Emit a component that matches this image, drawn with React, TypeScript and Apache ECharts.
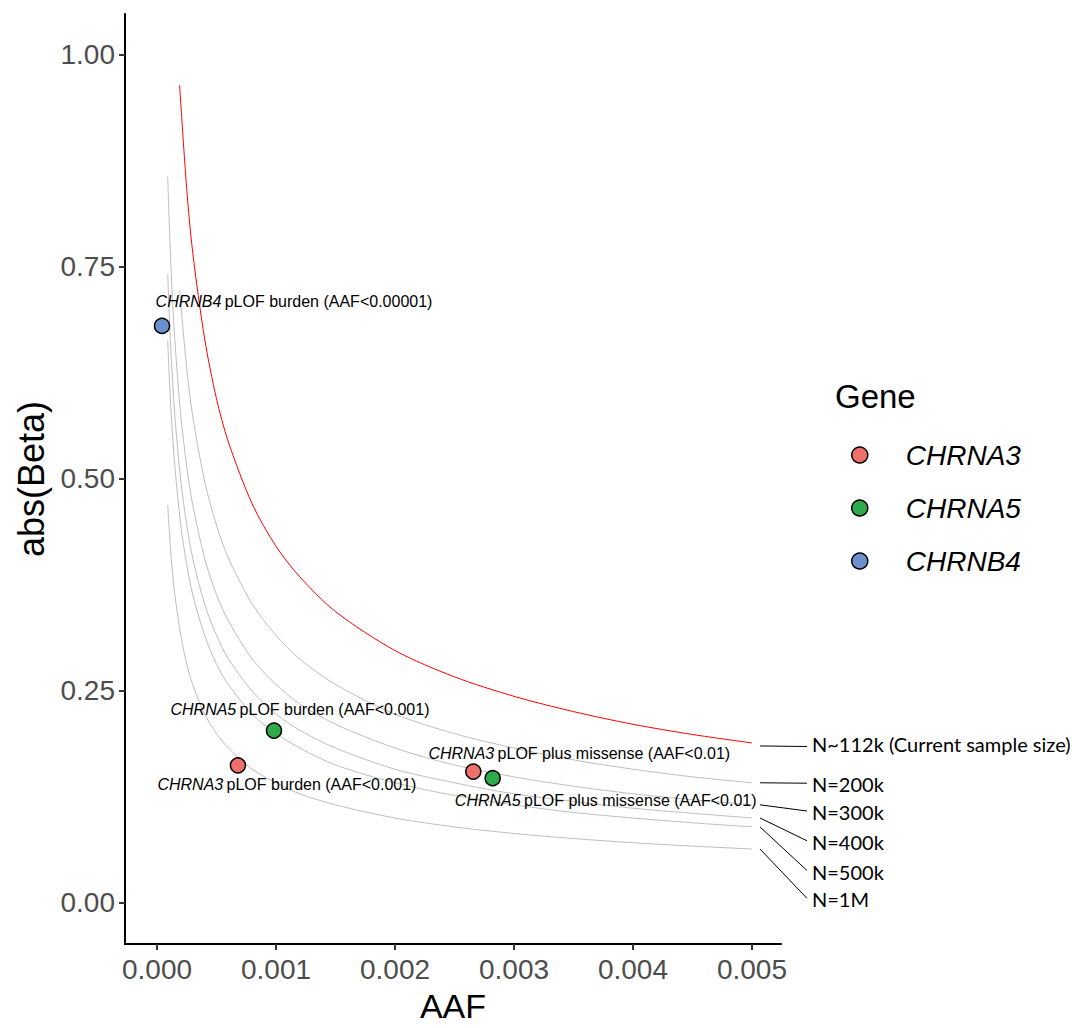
import { useEffect, useRef } from "react";
import * as echarts from "echarts";

// ---- curve data (AAF vs abs(Beta) detectable at given N) ----
const curveAafShort = [0.00019, 0.00025, 0.0003, 0.0004, 0.0005, 0.0006, 0.0008, 0.001, 0.0012, 0.0015, 0.002, 0.0025, 0.003, 0.0035, 0.004, 0.0045, 0.005];
const beta112k = [0.964, 0.841, 0.767, 0.665, 0.594, 0.543, 0.470, 0.420, 0.384, 0.343, 0.297, 0.266, 0.243, 0.225, 0.210, 0.198, 0.188];
const beta200k = [0.722, 0.629, 0.574, 0.497, 0.445, 0.406, 0.352, 0.315, 0.287, 0.257, 0.222, 0.199, 0.182, 0.168, 0.157, 0.148, 0.141];

const curveAafLong = [0.00009, 0.0001, 0.00012, 0.00015, 0.0002, 0.00025, 0.0003, 0.0004, 0.0005, 0.0006, 0.0008, 0.001, 0.0012, 0.0015, 0.002, 0.0025, 0.003, 0.0035, 0.004, 0.0045, 0.005];
const beta300k = [0.856, 0.812, 0.741, 0.663, 0.574, 0.514, 0.469, 0.406, 0.363, 0.332, 0.287, 0.257, 0.234, 0.210, 0.182, 0.162, 0.148, 0.137, 0.128, 0.121, 0.115];
const beta400k = [0.741, 0.703, 0.642, 0.574, 0.497, 0.445, 0.406, 0.352, 0.315, 0.287, 0.249, 0.222, 0.203, 0.182, 0.157, 0.141, 0.128, 0.119, 0.111, 0.105, 0.0995];
const beta500k = [0.663, 0.629, 0.574, 0.514, 0.445, 0.398, 0.363, 0.315, 0.281, 0.257, 0.222, 0.199, 0.182, 0.162, 0.141, 0.126, 0.115, 0.106, 0.0994, 0.0938, 0.089];
const beta1M = [0.469, 0.445, 0.406, 0.363, 0.315, 0.281, 0.257, 0.222, 0.199, 0.182, 0.157, 0.141, 0.128, 0.115, 0.0994, 0.0889, 0.0812, 0.0752, 0.0703, 0.0663, 0.0629];

const curveNames = ["N~112k (Current sample size)", "N=200k", "N=300k", "N=400k", "N=500k", "N=1M"];
// abs(Beta) level at which each curve's label sits on the right
const curveLabelBeta = [0.1885, 0.1405, 0.1077, 0.0726, 0.0375, 0.0047];

// ---- gene points ----
const geneNames = ["CHRNA3", "CHRNA5", "CHRNB4"];
const geneColors = ["#EF6F6A", "#2DAA4A", "#6C8FCD"];
const chrna3Aaf = [0.00068, 0.002658];
const chrna3Beta = [0.1616, 0.1542];
const chrna5Aaf = [0.000983, 0.002821];
const chrna5Beta = [0.2026, 0.1464];
const chrnb4Aaf = [0.000042];
const chrnb4Beta = [0.68];
const chrna3Desc = ["pLOF burden (AAF<0.001)", "pLOF plus missense (AAF<0.01)"];
const chrna5Desc = ["pLOF burden (AAF<0.001)", "pLOF plus missense (AAF<0.01)"];
const chrnb4Desc = ["pLOF burden (AAF<0.00001)"];

const xTicks = [0, 0.001, 0.002, 0.003, 0.004, 0.005];
const yTicks = [0, 0.25, 0.5, 0.75, 1.0];

// label offsets (pixels) for each point label
const chrna3LabelOffset = [[49, 19], [106, -18]];
const chrna5LabelOffset = [[26, -21], [113, 22]];
const chrnb4LabelOffset = [[132, -24]];

const FONT = "'Liberation Sans', Arial, Helvetica, sans-serif";

export default function App() {
  const ref = useRef<HTMLDivElement>(null);

  useEffect(() => {
    if (!ref.current) return;
    const chart = echarts.init(ref.current, null, { renderer: "svg" });

    const curveSets = [
      { aaf: curveAafShort, beta: beta112k, color: "#FF0000" },
      { aaf: curveAafShort, beta: beta200k, color: "#BEBEBE" },
      { aaf: curveAafLong, beta: beta300k, color: "#BEBEBE" },
      { aaf: curveAafLong, beta: beta400k, color: "#BEBEBE" },
      { aaf: curveAafLong, beta: beta500k, color: "#BEBEBE" },
      { aaf: curveAafLong, beta: beta1M, color: "#BEBEBE" },
    ];

    const lineSeries = curveSets.map((c, i) => ({
      type: "line",
      name: curveNames[i],
      data: c.aaf.map((a, j) => [a, c.beta[j]]),
      showSymbol: false,
      symbol: "none",
      smooth: 0.3,
      silent: true,
      z: i === 0 ? 3 : 2,
      lineStyle: { color: c.color, width: 1 },
    }));

    const genes = [
      { aaf: chrna3Aaf, beta: chrna3Beta, desc: chrna3Desc, off: chrna3LabelOffset },
      { aaf: chrna5Aaf, beta: chrna5Beta, desc: chrna5Desc, off: chrna5LabelOffset },
      { aaf: chrnb4Aaf, beta: chrnb4Beta, desc: chrnb4Desc, off: chrnb4LabelOffset },
    ];

    const scatterSeries = genes.map((g, gi) => ({
      type: "scatter",
      name: geneNames[gi],
      symbol: "circle",
      symbolSize: 15,
      z: 5,
      itemStyle: { color: geneColors[gi], borderColor: "#000", borderWidth: 1.5, opacity: 1 },
      data: g.aaf.map((a, j) => ({
        value: [a, g.beta[j]],
        label: {
          show: true,
          position: "inside",
          offset: g.off[j],
          formatter: `{i|${geneNames[gi]}} {n|${g.desc[j]}}`,
          rich: {
            i: { fontStyle: "italic", fontSize: 16, fontFamily: FONT, color: "#000" },
            n: { fontSize: 16, fontFamily: FONT, color: "#000" },
          },
        },
      })),
    }));

    chart.setOption({
      animation: false,
      backgroundColor: "#fff",
      grid: { left: 125, top: 14, width: 656, height: 937, containLabel: false },
      xAxis: {
        type: "value",
        min: -0.000269,
        max: 0.005244,
        name: "AAF",
        nameLocation: "middle",
        nameGap: 45,
        nameTextStyle: { fontSize: 34, fontFamily: FONT, color: "#000" },
        axisLine: { show: true, onZero: false, lineStyle: { color: "#000", width: 2 } },
        axisTick: { show: true, customValues: xTicks, length: 6, lineStyle: { color: "#333", width: 2 } },
        axisLabel: {
          customValues: xTicks,
          formatter: (v: number) => v.toFixed(3),
          fontSize: 28,
          fontFamily: FONT,
          color: "#4D4D4D",
          margin: 11,
        },
        splitLine: { show: false },
      },
      yAxis: {
        type: "value",
        min: -0.0492,
        max: 1.048,
        name: "abs(Beta)",
        nameLocation: "middle",
        nameGap: 75,
        nameRotate: 90,
        nameTextStyle: { fontSize: 36, fontFamily: FONT, color: "#000" },
        axisLine: { show: true, onZero: false, lineStyle: { color: "#000", width: 2 } },
        axisTick: { show: true, customValues: yTicks, length: 6, lineStyle: { color: "#333", width: 2 } },
        axisLabel: {
          customValues: yTicks,
          formatter: (v: number) => v.toFixed(2),
          fontSize: 28,
          fontFamily: FONT,
          color: "#4D4D4D",
          margin: 10,
        },
        splitLine: { show: false },
      },
      legend: {
        data: geneNames,
        orient: "vertical",
        left: 846,
        top: 435,
        itemWidth: 82,
        itemHeight: 16,
        itemGap: 23,
        icon: "circle",
        itemStyle: { borderColor: "#000", borderWidth: 1.5 },
        textStyle: { fontSize: 28, fontStyle: "italic", fontFamily: FONT, color: "#000", lineHeight: 30 },
      },
      series: [...lineSeries, ...scatterSeries],
    });

    // right-hand curve labels with leader lines, positioned from the curves' end points
    const graphics: any[] = [
      {
        type: "text",
        x: 835,
        y: 396,
        style: { text: "Gene", fontSize: 33, fontFamily: FONT, fill: "#000", verticalAlign: "middle", align: "left" },
      },
    ];
    curveSets.forEach((c, i) => {
      const last = c.aaf.length - 1;
      const endPt = chart.convertToPixel({ gridIndex: 0 }, [c.aaf[last], c.beta[last]]) as number[];
      const labPt = chart.convertToPixel({ gridIndex: 0 }, [c.aaf[last], curveLabelBeta[i]]) as number[];
      const labelX = endPt[0] + 60;
      graphics.push({
        type: "line",
        shape: { x1: endPt[0] + 8, y1: endPt[1] + (i === 0 ? 3 : 0), x2: labelX - 5, y2: labPt[1] + (i === 0 ? 4 : 0) },
        style: { stroke: "#000", lineWidth: 1 },
        silent: true,
      });
      graphics.push({
        type: "text",
        x: labelX,
        y: labPt[1] + 1,
        style: {
          text: curveNames[i],
          fontSize: 20,
          fontFamily: "Lato, 'Noto Sans', sans-serif",
          fill: "#000",
          verticalAlign: "middle",
          align: "left",
        },
        silent: true,
      });
    });
    chart.setOption({ graphic: graphics });

    return () => chart.dispose();
  }, []);

  return <div ref={ref} style={{ position: "absolute", left: 0, top: 0, width: 1072, height: 1028 }} />;
}
